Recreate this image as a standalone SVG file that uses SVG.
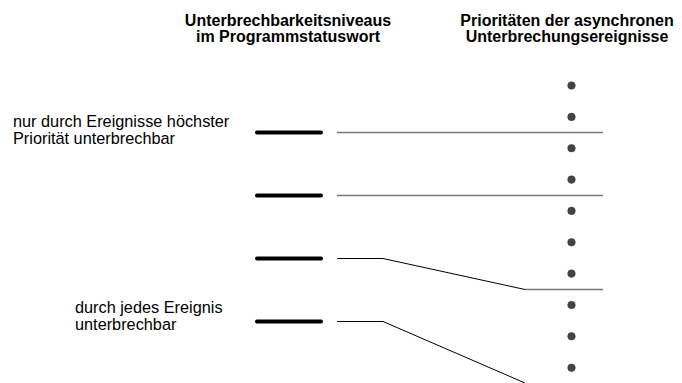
<svg xmlns="http://www.w3.org/2000/svg" width="682" height="383" viewBox="0 0 682 383">
<style>
text{font-family:"Liberation Sans",Arial,sans-serif;font-size:16.3px;fill:#000}
.h{font-weight:bold;font-size:16px;text-anchor:middle}
.lvl{stroke:#000;stroke-width:4;stroke-linecap:round}
.g{stroke:#777;stroke-width:1.5;fill:none}
.k{stroke:#000;stroke-width:1;fill:none}
.dot{fill:#444;stroke:#333;stroke-width:0.5}
</style>
<rect width="682" height="383" fill="#fff"/>
<g id="headers">
<text class="h" x="288" y="25.5">Unterbrechbarkeitsniveaus</text>
<text class="h" x="288" y="42">im Programmstatuswort</text>
<text class="h" x="567" y="25.5">Prioritäten der asynchronen</text>
<text class="h" x="567" y="42">Unterbrechungsereignisse</text>
</g>
<g id="label-top">
<text x="13" y="126.5">nur durch Ereignisse höchster</text>
<text x="13" y="143.5">Priorität unterbrechbar</text>
</g>
<g id="label-bottom">
<text x="75" y="312.5">durch jedes Ereignis</text>
<text x="75" y="329.5">unterbrechbar</text>
</g>
<g id="levels">
<line id="level1" class="lvl" x1="257" y1="132.5" x2="321" y2="132.5"/>
<line id="level2" class="lvl" x1="257" y1="195.5" x2="321" y2="195.5"/>
<line id="level3" class="lvl" x1="257" y1="258.5" x2="321" y2="258.5"/>
<line id="level4" class="lvl" x1="257" y1="321.5" x2="321" y2="321.5"/>
</g>
<g id="priorities">
<circle class="dot" cx="571.5" cy="85.5" r="3.8"/>
<circle class="dot" cx="571.5" cy="116.9" r="3.8"/>
<circle class="dot" cx="571.5" cy="148.2" r="3.8"/>
<circle class="dot" cx="571.5" cy="179.6" r="3.8"/>
<circle class="dot" cx="571.5" cy="210.9" r="3.8"/>
<circle class="dot" cx="571.5" cy="242.3" r="3.8"/>
<circle class="dot" cx="571.5" cy="273.6" r="3.8"/>
<circle class="dot" cx="571.5" cy="305" r="3.8"/>
<circle class="dot" cx="571.5" cy="336.3" r="3.8"/>
<circle class="dot" cx="571.5" cy="367.7" r="3.8"/>
</g>
<g id="connectors">
<line class="g" x1="337" y1="132.5" x2="603" y2="132.5"/>
<line class="g" x1="337" y1="195.5" x2="603" y2="195.5"/>
<path class="k" d="M337,258.5 H383 L525,289.5"/>
<line class="g" x1="525" y1="289.5" x2="603" y2="289.5"/>
<path class="k" d="M337,321.5 H383 L525,383"/>
</g>
</svg>
